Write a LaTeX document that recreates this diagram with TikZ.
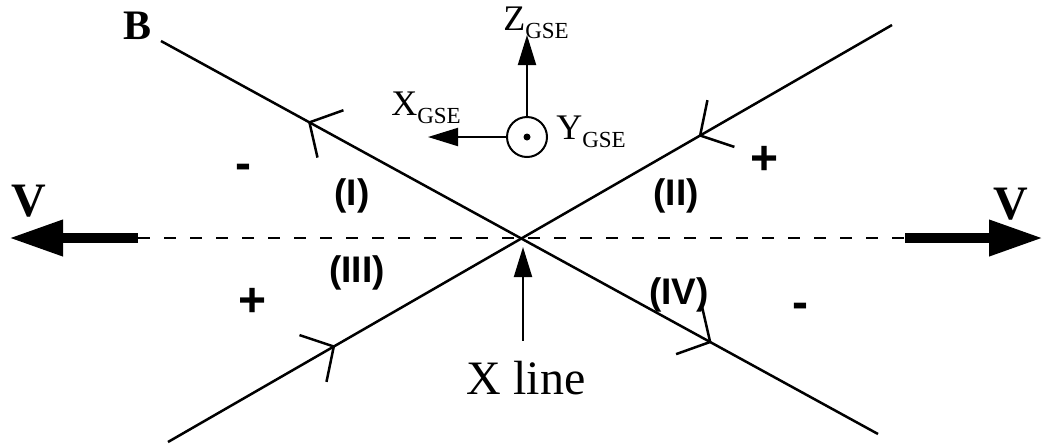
\documentclass[tikz,border=0pt]{standalone}
\usepackage{fontspec}
\setmainfont{Liberation Serif}
\newfontfamily\labelfont{Liberation Sans}
\usetikzlibrary{arrows.meta,positioning,decorations.markings}
\newcommand{\gsesub}[1]{#1\raisebox{-0.45ex}{\fontsize{11.5}{13}\selectfont GSE}}
\tikzset{fieldtip/.tip={Straight Barb[length=12pt,width=27pt]}}

\begin{document}
\begin{tikzpicture}[x=0.5pt,y=-0.5pt,
  fieldline/.style={line width=1.25pt, postaction={decorate}},
  outline/.style={decoration={markings,
      mark=at position 0.205 with {\arrowreversed{fieldtip}},
      mark=at position 0.768 with {\arrow{fieldtip}}}},
  inline/.style={decoration={markings,
      mark=at position 0.231 with {\arrow{fieldtip}},
      mark=at position 0.733 with {\arrowreversed{fieldtip}}}},
  axis/.style={-{Triangle[length=15pt,width=9pt]}, line width=1pt},
  flow/.style={-{Triangle[length=27pt,width=17pt]}, line width=5pt},
  region/.style={font=\labelfont\bfseries\fontsize{18.5}{22}\selectfont},
  sign/.style={font=\labelfont\bfseries\fontsize{24}{28}\selectfont},
  gse/.style={font=\fontsize{18}{20}\selectfont},
  every node/.style={inner sep=0pt}
]
\useasboundingbox (0,0) rectangle (1044,447);

% field lines through the X point
\coordinate (b1s) at (161,41);
\coordinate (b1e) at (878,434);
\coordinate (b2s) at (168,442);
\coordinate (b2e) at (892,25);
\draw[fieldline,outline](b1s)--(b1e);
\draw[fieldline,inline](b2s)--(b2e);
\node[font=\bfseries\fontsize{21}{24}\selectfont](blab) at (138,26){B};

% flow
\coordinate (vl) at (138,238);
\coordinate (vr) at (905,238);
\coordinate (vltip) at (9,238);
\coordinate (vrtip) at (1043,238);
\draw[line width=0.9pt,dash pattern=on 6pt off 7pt](vl)--(vr);
\draw[flow](vl)--(vltip);
\draw[flow](vr)--(vrtip);
\node[font=\bfseries\fontsize{24}{28}\selectfont](vleft) at (29,201){V};
\node[font=\bfseries\fontsize{24}{28}\selectfont](vright) at (1011,204){V};

% X line
\coordinate (xtip) at (523,247);
\node[font=\fontsize{24}{28}\selectfont](xline) at (526,378){X line};
\draw[axis]([yshift=10pt]xline.north -| xtip)--(xtip);

% GSE axes
\node[circle,draw,line width=1pt,minimum size=20pt](yaxis) at (527,137){};
\node[circle,fill,minimum size=3.5pt](ydot) at (yaxis){};
\coordinate (ztip) at (527,35);
\coordinate (xgsetip) at (428,137);
\draw[axis](yaxis.north)--(ztip);
\draw[axis](yaxis.west)--(xgsetip);
\node[gse](zlab) at (536,23){\gsesub{Z}};
\node[gse](xlab) at (426,108){\gsesub{X}};
\node[gse](ylab) at (591,132){\gsesub{Y}};

% regions
\node[region](r1) at (352,196){(I)};
\node[region](r2) at (676,196){(II)};
\node[region](r3) at (357,273){(III)};
\node[region](r4) at (679,295){(IV)};
\node[sign](s1) at (243,172){-};
\node[sign](s2) at (765,160){+};
\node[sign](s3) at (253,302){+};
\node[sign](s4) at (800,311){-};
\end{tikzpicture}
\end{document}
